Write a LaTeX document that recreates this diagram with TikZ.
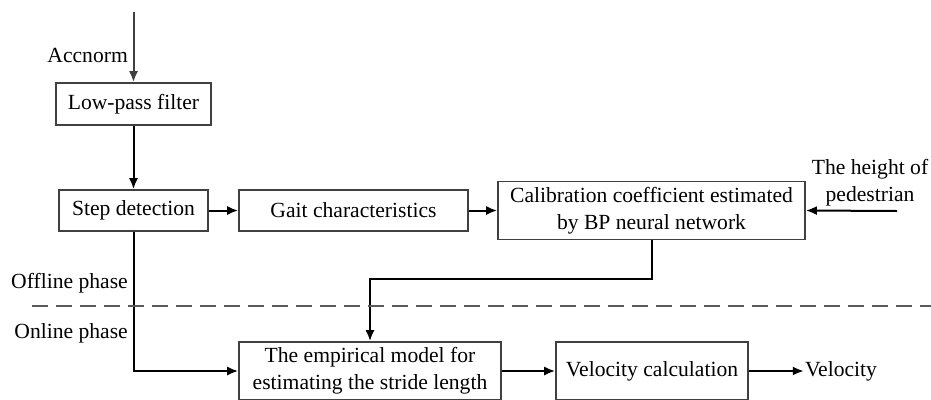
\documentclass[tikz,border=0pt]{standalone}
\usepackage{fontspec}
\setmainfont{Liberation Serif}
\usepackage{tikz}
\usetikzlibrary{shapes,arrows.meta}
\tikzstyle{block} = [rectangle, draw=black!75, line width=1.6pt, text centered, align=center, inner sep=2pt, minimum height=41pt]
\tikzstyle{line} = [draw, line width=2pt, -{Latex[length=11pt,width=9pt]}]
\tikzstyle{lbl} = [inner sep=1pt]
\tikzstyle{phase} = [draw=black!65, line width=1.8pt, dash pattern=on 16pt off 8pt]

\begin{document}
\begin{tikzpicture}[x=1pt, y=1pt, node distance=100pt, font=\fontsize{21.6}{27}\selectfont]
    \useasboundingbox (0,0) rectangle (931,-399);
    % Place nodes
    \node [block, minimum width=155pt, minimum height=42pt] (lpf) at (133.5,-104) {Low-pass filter};
    \node [block, minimum width=149pt, below of=lpf, node distance=106.5pt] (step) {Step detection};
    \node [block, minimum width=229pt, right of=step, node distance=220pt] (gait) {Gait characteristics};
    \node [block, minimum width=307pt, minimum height=58pt, right of=gait, node distance=298pt] (calib) {Calibration coefficient estimated\\by BP neural network};
    \node [block, minimum width=262pt, minimum height=58pt, below of=gait, node distance=160.5pt, xshift=16.5pt] (model) {The empirical model for\\estimating the stride length};
    \node [block, minimum width=192pt, minimum height=58pt, right of=model, node distance=282pt] (velcalc) {Velocity calculation};
    \node [lbl, right of=velcalc, node distance=189pt] (velout) {Velocity};
    \node [lbl, align=center, right of=calib, node distance=218.5pt, yshift=28pt] (height) {The height of\\pedestrian};
    \node [lbl, anchor=east] (acc) at (129,-55) {Accnorm};
    \node [lbl, anchor=east] (offline) at (129,-283) {Offline phase};
    \node [lbl, anchor=east] (online) at (129,-333) {Online phase};
    \coordinate (in) at (133.5,-12);
    \coordinate (hin) at (897,-211);
    \coordinate (dl) at (32,-306);
    \coordinate (dr) at (931,-306);

    % Draw edges
    \path [line, draw=black!75, fill=black!75] (in) -- (lpf);
    \path [line] (lpf) -- (step);
    \path [line] (step) -- (gait);
    \path [line] (gait) -- (calib);
    \path [line] (hin) -- (calib.east);
    \path [line] (calib.south) -- ++(0,-39) -| (model.north);
    \path [line] (step.south) |- (model.west);
    \path [line] (model) -- (velcalc);
    \path [line] (velcalc) -- (velout);
    \path [phase] (dl) -- (dr);
\end{tikzpicture}
\end{document}
